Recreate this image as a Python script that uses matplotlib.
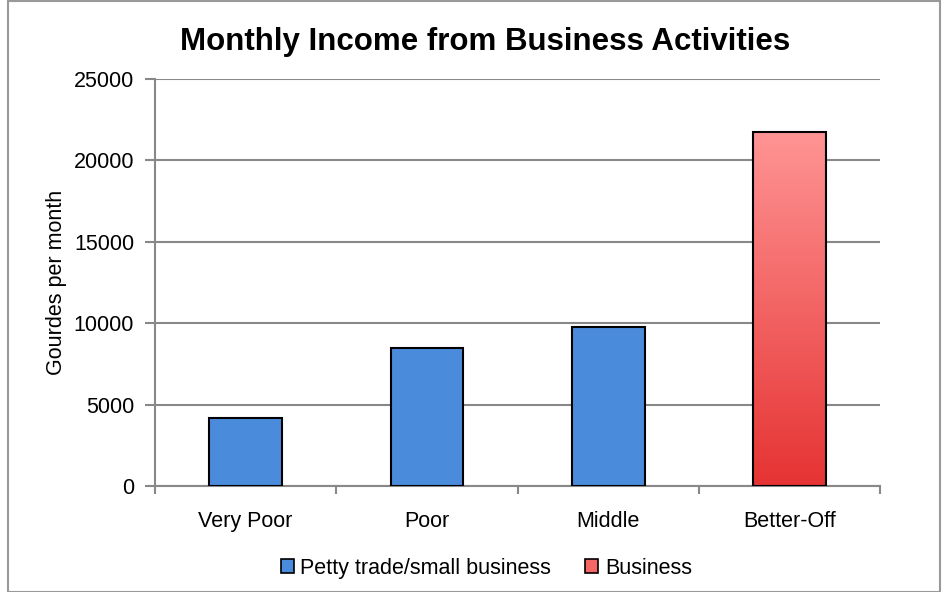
import numpy as np
import matplotlib.pyplot as plt
from matplotlib.patches import Rectangle
from matplotlib.colors import LinearSegmentedColormap

plt.rcParams['font.family'] = ['Liberation Sans', 'DejaVu Sans']

categories = ['Very Poor', 'Poor', 'Middle', 'Better-Off']
income = [4200, 8450, 9750, 21700]
series = ['Petty trade/small business', 'Petty trade/small business',
          'Petty trade/small business', 'Business']
yticks = [0, 5000, 10000, 15000, 20000, 25000]

blue = '#4a8cdb'
red_top = '#ff9494'
red_bottom = '#e63333'
fs = 15.5

fig = plt.figure(figsize=(9.48, 5.92), dpi=100)
ax = fig.add_axes([0.1635, 0.179, 0.765, 0.688])

x = np.arange(len(categories))
colors = [blue if s != 'Business' else 'none' for s in series]
bars = ax.bar(x, income, width=0.4, color=colors, edgecolor='black',
              linewidth=1.5, zorder=3)

# gradient fill for the "Business" bar
cmap = LinearSegmentedColormap.from_list('redgrad', [red_bottom, red_top])
for b, s in zip(bars, series):
    if s == 'Business':
        x0, y0 = b.get_x(), b.get_y()
        w, h = b.get_width(), b.get_height()
        grad = np.linspace(0, 1, 256).reshape(-1, 1)
        im = ax.imshow(grad, cmap=cmap, origin='lower', aspect='auto',
                       extent=[x0, x0 + w, y0, y0 + h], zorder=2)
        im.set_clip_path(b)

ax.set_xlim(-0.5, len(categories) - 0.5)
ax.set_ylim(0, 25000)
ax.set_yticks(yticks)
ax.set_yticklabels([str(t) for t in yticks], fontsize=fs)
ax.set_xticks(x)
ax.set_xticklabels(categories, fontsize=fs)
ax.tick_params(axis='x', length=0, pad=18)
ax.set_xticks(np.arange(len(categories) + 1) - 0.5, minor=True)
ax.tick_params(axis='x', which='minor', length=6, color='#888888', width=1.5)
ax.tick_params(axis='y', length=7, color='#888888', width=1.5, pad=8)

ax.grid(axis='y', color='#888888', linewidth=1.5, zorder=0)
ax.set_axisbelow(True)
for side in ['top', 'right']:
    ax.spines[side].set_visible(False)
for side in ['left', 'bottom']:
    ax.spines[side].set_color('#888888')
    ax.spines[side].set_linewidth(1.5)

ax.set_ylabel('Gourdes per month', fontsize=fs, labelpad=5)
fig.suptitle('Monthly Income from Business Activities', fontsize=22.5,
             fontweight='bold', x=0.512, y=0.955)

handles = [Rectangle((0, 0), 1, 1, facecolor=blue, edgecolor='black', linewidth=1.2),
           Rectangle((0, 0), 1, 1, facecolor='#f56666', edgecolor='black', linewidth=1.2)]
fig.legend(handles, ['Petty trade/small business', 'Business'], loc='center',
           bbox_to_anchor=(0.513, 0.04), ncol=2, frameon=False, fontsize=fs,
           handlelength=0.6, handleheight=0.6, handletextpad=0.3, columnspacing=1.6)

# outer chart border
fig.add_artist(Rectangle((0.008, 0.0), 0.984, 0.999, transform=fig.transFigure,
                         fill=False, edgecolor='#999999', linewidth=1.5))

fig.savefig('out.png', dpi=100)
